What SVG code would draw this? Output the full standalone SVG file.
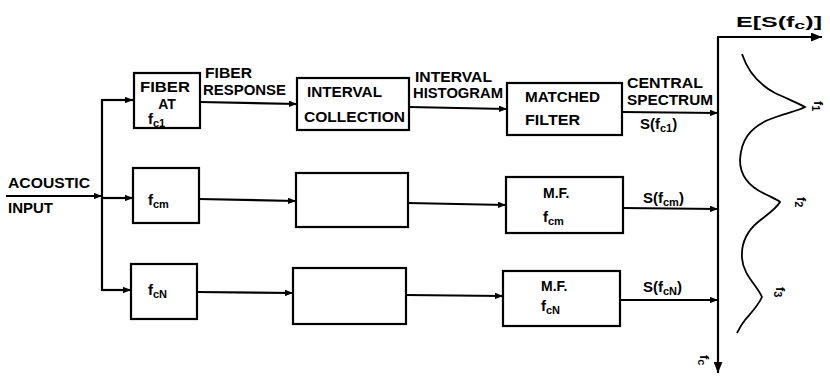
<svg xmlns="http://www.w3.org/2000/svg" width="830" height="377" viewBox="0 0 830 377">
<defs>
<style>
.box{fill:#fff;stroke:#000;stroke-width:2.2}
.ln{fill:none;stroke:#000;stroke-width:2.2}
.t{font-family:"Liberation Sans",Arial,sans-serif;font-weight:bold;font-size:14px;fill:#000}
.f{font-size:15px}
.s{font-size:11px}
.r{font-family:"Liberation Sans",Arial,sans-serif;font-weight:bold;font-size:13px;fill:#000}
</style>
<marker id="ah" viewBox="0 0 10 8" refX="10" refY="4" markerWidth="8" markerHeight="6.5" markerUnits="userSpaceOnUse" orient="auto">
<path d="M0,0 L10,4 L0,8 z" fill="#000"/>
</marker>
<marker id="ah2" viewBox="0 0 10 8" refX="10" refY="4" markerWidth="11" markerHeight="9" markerUnits="userSpaceOnUse" orient="auto">
<path d="M0,0 L10,4 L0,8 z" fill="#000"/>
</marker>
</defs>
<rect width="830" height="377" fill="#fff"/>

<g id="connectors">
<line class="ln" x1="6" y1="196" x2="102" y2="196" marker-end="url(#ah)"/>
<polyline class="ln" points="133,100 102,100 102,290 131,290"/>
<line class="ln" x1="102" y1="100" x2="133" y2="100" marker-end="url(#ah)"/>
<line class="ln" x1="102" y1="198" x2="133" y2="198" marker-end="url(#ah)"/>
<line class="ln" x1="102" y1="290" x2="131" y2="290" marker-end="url(#ah)"/>
<line class="ln" x1="200" y1="102" x2="297" y2="104" marker-end="url(#ah)"/>
<line class="ln" x1="199" y1="199" x2="296" y2="201" marker-end="url(#ah)"/>
<line class="ln" x1="197" y1="292" x2="293" y2="293" marker-end="url(#ah)"/>
<line class="ln" x1="409" y1="107" x2="507" y2="109" marker-end="url(#ah)"/>
<line class="ln" x1="408" y1="203" x2="506" y2="205" marker-end="url(#ah)"/>
<line class="ln" x1="406" y1="295" x2="503" y2="296" marker-end="url(#ah)"/>
<line class="ln" x1="622" y1="112" x2="718" y2="113" marker-end="url(#ah)"/>
<line class="ln" x1="623" y1="208" x2="718" y2="209" marker-end="url(#ah)"/>
<line class="ln" x1="620" y1="300" x2="718" y2="300" marker-end="url(#ah)"/>
</g>

<g id="axis">
<line class="ln" x1="718" y1="37" x2="718" y2="373" marker-end="url(#ah2)"/>
<line class="ln" x1="717" y1="37" x2="822" y2="37" marker-end="url(#ah2)"/>
<text class="t" x="736" y="27" textLength="86" lengthAdjust="spacingAndGlyphs">E[S(f<tspan class="s" dy="2">c</tspan><tspan dy="-2">)]</tspan></text>
<path d="M742,54 C748,72 758,84 775,93 C790,100 800,104 805,107 C798,111 782,114 768,120 C750,128 741,140 740,160 C740,178 752,188 765,194 C773,198 778,200 780,202 C776,209 768,214 758,222 C746,232 741,243 742,258 C743,275 757,285 762,297 C758,306 750,314 745,320 C741,325 739,329 737,333" fill="none" stroke="#000" stroke-width="1.8"/>
<text class="r" transform="translate(814,101) rotate(90)">f<tspan class="s" dy="2">1</tspan></text>
<text class="r" transform="translate(797,197) rotate(90)">f<tspan class="s" dy="2">2</tspan></text>
<text class="r" transform="translate(776,287) rotate(90)">f<tspan class="s" dy="2">3</tspan></text>
<text class="r" transform="translate(700,355) rotate(90)">f<tspan class="s" dy="2">c</tspan></text>
</g>

<g id="input">
<text class="t" x="8" y="188" textLength="82" lengthAdjust="spacingAndGlyphs">ACOUSTIC</text>
<text class="t" x="8" y="213" textLength="45" lengthAdjust="spacingAndGlyphs">INPUT</text>
</g>

<g id="fiber1">
<rect class="box" x="134" y="73" width="66" height="55"/>
<text class="t" x="140" y="92" textLength="50" lengthAdjust="spacingAndGlyphs">FIBER</text>
<text class="t" x="167" y="109" text-anchor="middle">AT</text>
<text class="t f" x="148" y="124">f<tspan class="s" dy="3">c1</tspan></text>
</g>
<g id="label-fiber-response">
<text class="t" x="205" y="78" textLength="47" lengthAdjust="spacingAndGlyphs">FIBER</text>
<text class="t" x="203" y="95" textLength="83" lengthAdjust="spacingAndGlyphs">RESPONSE</text>
</g>
<g id="fiber-m">
<rect class="box" x="133" y="168" width="66" height="55"/>
<text class="t f" x="148" y="205">f<tspan class="s" dy="3">cm</tspan></text>
</g>
<g id="fiber-n">
<rect class="box" x="131" y="264" width="66" height="55"/>
<text class="t f" x="148" y="295">f<tspan class="s" dy="3">cN</tspan></text>
</g>

<g id="interval1">
<rect class="box" x="297" y="78" width="112" height="52"/>
<text class="t" x="307" y="97" textLength="75" lengthAdjust="spacingAndGlyphs">INTERVAL</text>
<text class="t" x="304" y="122" textLength="101" lengthAdjust="spacingAndGlyphs">COLLECTION</text>
</g>
<g id="label-interval-histogram">
<text class="t" x="415" y="82" textLength="77" lengthAdjust="spacingAndGlyphs">INTERVAL</text>
<text class="t" x="413" y="98" textLength="90" lengthAdjust="spacingAndGlyphs">HISTOGRAM</text>
</g>
<g id="interval-m">
<rect class="box" x="296" y="173" width="112" height="54"/>
</g>
<g id="interval-n">
<rect class="box" x="293" y="268" width="113" height="56"/>
</g>

<g id="matched1">
<rect class="box" x="507" y="83" width="115" height="52"/>
<text class="t" x="525" y="102" textLength="75" lengthAdjust="spacingAndGlyphs">MATCHED</text>
<text class="t" x="525" y="125" textLength="55" lengthAdjust="spacingAndGlyphs">FILTER</text>
</g>
<g id="label-central-spectrum">
<text class="t" x="627" y="88" textLength="76" lengthAdjust="spacingAndGlyphs">CENTRAL</text>
<text class="t" x="627" y="105" textLength="86" lengthAdjust="spacingAndGlyphs">SPECTRUM</text>
<text class="t f" x="640" y="129">S(f<tspan class="s" dy="3">c1</tspan><tspan dy="-3">)</tspan></text>
</g>
<g id="matched-m">
<rect class="box" x="506" y="177" width="117" height="56"/>
<text class="t" x="543" y="198">M.F.</text>
<text class="t f" x="543" y="222">f<tspan class="s" dy="3">cm</tspan></text>
<text class="t f" x="643" y="203">S(f<tspan class="s" dy="3">cm</tspan><tspan dy="-3">)</tspan></text>
</g>
<g id="matched-n">
<rect class="box" x="503" y="271" width="117" height="55"/>
<text class="t" x="541" y="291">M.F.</text>
<text class="t f" x="541" y="311">f<tspan class="s" dy="3">cN</tspan></text>
<text class="t f" x="643" y="292">S(f<tspan class="s" dy="3">cN</tspan><tspan dy="-3">)</tspan></text>
</g>
</svg>
